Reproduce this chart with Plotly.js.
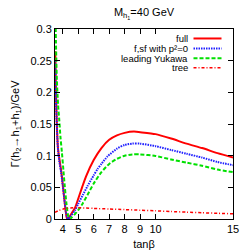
<!DOCTYPE html>
<html>
<head>
<meta charset="utf-8">
<script src="https://cdn.plot.ly/plotly-3.0.1.min.js"></script>
<style>html,body{margin:0;padding:0;background:#fff;}#chart{width:250px;height:250px;}</style>
</head>
<body>
<div id="chart"></div>
<script>
// tan(beta) samples and decay widths (GeV)
const tFull = [3.52,3.55,3.6,3.65,3.7,3.8,3.9,4.0,4.1,4.2,4.28,4.4,4.5,4.8,5.0,5.25,5.5,6.0,6.5,7.0,7.5,8.0,8.6,9.0,10,11,12,13,14,15];
const full  = [0.265,0.215,0.165,0.13,0.11,0.092,0.076,0.055,0.032,0.011,0.0,0.002,0.006,0.018,0.032,0.05,0.067,0.093,0.112,0.125,0.132,0.136,0.138,0.137,0.134,0.127,0.119,0.112,0.104,0.097];

const tFsf = [3.52,3.55,3.6,3.65,3.7,3.8,3.9,4.0,4.1,4.2,4.3,4.35,4.5,4.8,5.0,5.3,5.6,6.0,6.25,6.5,6.9,7.5,8.0,8.5,9.0,10,11,12,13,14,15];
const fsf  = [0.25,0.2,0.16,0.128,0.108,0.087,0.073,0.053,0.032,0.012,0.001,0.0,0.004,0.014,0.024,0.038,0.052,0.069,0.079,0.087,0.099,0.111,0.117,0.119,0.119,0.115,0.109,0.103,0.097,0.09,0.085];

const tLead = [3.52,3.56,3.62,3.7,3.78,3.85,3.95,4.05,4.13,4.25,4.35,4.45,4.6,4.8,5.0,5.3,5.6,6.0,6.5,7.0,7.5,8.0,8.5,9.0,10,11,12,13,14,15];
const lead  = [0.34,0.28,0.22,0.18,0.155,0.13,0.104,0.075,0.052,0.022,0.005,0.0,0.003,0.008,0.014,0.025,0.038,0.056,0.074,0.087,0.095,0.1,0.102,0.102,0.0995,0.094,0.089,0.084,0.078,0.074];

const tTree = [3.5,3.75,4.0,4.25,4.5,5.0,5.5,6.0,7.0,8.0,9.0,10,11,12,13,14,15];
const tree  = [0.0105,0.0135,0.0155,0.0168,0.0175,0.0177,0.0173,0.0167,0.0158,0.0148,0.0139,0.0129,0.0118,0.0108,0.0099,0.009,0.0082];

const seriesNames = ["full","f,sf with p²=0","leading Yukawa","tree"];
const xTicks = [4,5,6,7,8,9,10,15];
const yTicks = [0,0.05,0.1,0.15,0.2,0.25,0.3];
const yTickText = ["0","0.05","0.1","0.15","0.2","0.25","0.3"];

const styles = [
  {color:"#ff0000", width:2, dash:"solid"},
  {color:"#2020ff", width:2, dash:"1.5px,1px"},
  {color:"#00e000", width:2, dash:"4px,2px"},
  {color:"#ff0000", width:1.5, dash:"3px,2px,1px,2px"}
];
const xs = [tFull,tFsf,tLead,tTree];
const ys = [full,fsf,lead,tree];

const traces = xs.map((x,i)=>({
  x:x, y:ys[i], type:"scatter", mode:"lines", name:seriesNames[i],
  line:{color:styles[i].color, width:styles[i].width, dash:styles[i].dash, shape:"spline", smoothing:0.6},
  showlegend:false, cliponaxis:true
}));

// manual gnuplot-style legend: text right-aligned, sample line to its right
const annotations = [];
const shapes = [];
const rowY = [38.5,48.5,58.3,67.8]; // px from top
seriesNames.forEach((n,i)=>{
  const yp = 1 - (rowY[i]-29)/(219.5-29);
  annotations.push({xref:"paper", yref:"paper", x:(188.5-55)/(233-55), y:yp, xanchor:"right", yanchor:"middle",
    text:n, showarrow:false, borderpad:0, font:{family:"Liberation Sans, Arial, sans-serif", size:9.5, color:"#000"}});
  shapes.push({type:"line", xref:"paper", yref:"paper", x0:(193.5-55)/(233-55), x1:(221.5-55)/(233-55), y0:yp, y1:yp,
    line:{color:styles[i].color, width:styles[i].width, dash:styles[i].dash}});
});

const font = {family:"Liberation Sans, Arial, sans-serif", size:11, color:"#000"};
const layout = {
  width:250, height:250,
  margin:{l:55, r:17, t:29, b:30.5},
  paper_bgcolor:"#fff", plot_bgcolor:"#fff",
  font:font,
  showlegend:false,
  title:{text:"M<sub>h<sub>1</sub></sub>=40 GeV", x:0.5, xref:"paper", y:1-12/250, yref:"container", yanchor:"middle", font:{family:font.family, size:11, color:"#000"}},
  xaxis:{range:[3.5,15], tickvals:xTicks, ticktext:xTicks.map(String), ticks:"inside", ticklen:5, tickcolor:"#000",
    mirror:"ticks", showline:true, linecolor:"#000", linewidth:1, showgrid:false, zeroline:false,
    tickfont:{family:font.family, size:11}, title:{text:"tanβ", standoff:6, font:{family:font.family, size:11}}},
  yaxis:{range:[0,0.3], tickvals:yTicks, ticktext:yTickText, ticks:"inside", ticklen:5, tickcolor:"#000",
    mirror:"ticks", showline:true, linecolor:"#000", linewidth:1, showgrid:false, zeroline:false,
    tickfont:{family:font.family, size:11}, title:{text:"Γ(h<sub>2</sub>→h<sub>1</sub>+h<sub>1</sub>)/GeV", standoff:8, font:{family:font.family, size:11}}},
  annotations:annotations,
  shapes:shapes
};
Plotly.newPlot("chart", traces, layout, {staticPlot:true, displayModeBar:false});
</script>
</body>
</html>
